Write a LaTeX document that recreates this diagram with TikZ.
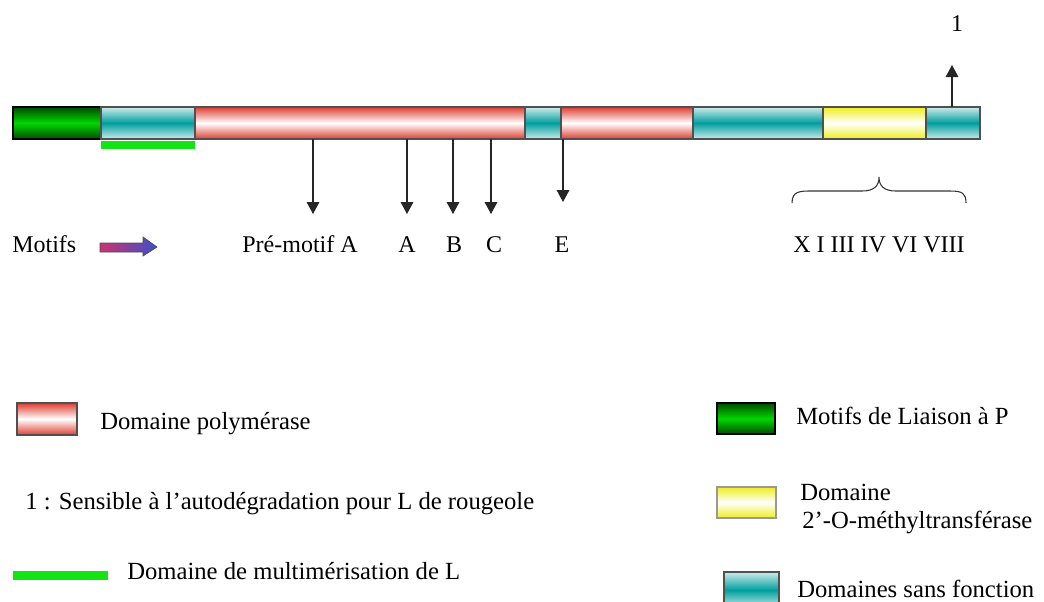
\documentclass[tikz,border=0pt]{standalone}
\usepackage{fontspec}
\setmainfont{Liberation Serif}
\usetikzlibrary{arrows.meta,shadings}
\definecolor{redE}{RGB}{222,62,50}
\definecolor{tealE}{RGB}{205,235,235}
\definecolor{tealM}{RGB}{0,158,158}
\definecolor{greenE}{RGB}{0,75,0}
\definecolor{greenM}{RGB}{0,215,0}
\definecolor{yellowE}{RGB}{238,238,30}
\definecolor{lgreen}{RGB}{20,228,20}
\definecolor{arrL}{RGB}{205,50,110}
\definecolor{arrR}{RGB}{60,80,205}
\definecolor{segline}{RGB}{80,80,80}
\tikzset{
  txt/.style={font=\fontsize{18.5pt}{21pt}\selectfont, inner sep=0pt, anchor=base west},
  lbl/.style={font=\fontsize{18pt}{21pt}\selectfont, inner sep=0pt, anchor=base},
  seg/.style={draw=segline, line width=0.8pt, inner sep=0pt, outer sep=0pt, minimum height=24pt, anchor=west},
  redseg/.style={seg, top color=redE, bottom color=redE, middle color=white},
  tealseg/.style={seg, top color=tealE, bottom color=tealE, middle color=tealM},
  greenseg/.style={seg, draw=black, top color=greenE, bottom color=greenE, middle color=greenM},
  yellowseg/.style={seg, top color=yellowE, bottom color=yellowE, middle color=white},
  darr/.style={-{Triangle[width=9.5pt,length=9pt]}, line width=0.8pt, draw=black!85},
}
\begin{document}
\begin{tikzpicture}[x=0.75pt,y=-0.75pt]
\useasboundingbox (0,0) rectangle (1044,601);
% main bar
\node[greenseg, minimum width=66pt] (g1) at (13,123) {};
\node[tealseg, minimum width=70.5pt] (t1) at (g1.east) {};
\node[redseg, minimum width=247.5pt] (r1) at (t1.east) {};
\node[tealseg, minimum width=27pt] (t2) at (r1.east) {};
\node[redseg, minimum width=99pt] (r2) at (t2.east) {};
\node[tealseg, minimum width=97.5pt] (t3) at (r2.east) {};
\node[yellowseg, minimum width=77.25pt] (y1) at (t3.east) {};
\node[tealseg, minimum width=40.5pt] (t4) at (y1.east) {};
% multimerisation underline
\fill[lgreen] (t1.south west) ++(0,2) rectangle ([yshift=-7.5pt]t1.south east);
% labels below
\node[txt, font=\fontsize{18pt}{21pt}\selectfont] (motifs) at (12,252) {Motifs};
\node[lbl] (lpm) at (300,252) {Pré-motif A};
\node[lbl] (lA) at (407,252) {A};
\node[lbl] (lB) at (454,252) {B};
\node[lbl] (lC) at (494,252) {C};
\node[lbl] (lE) at (562,252) {E};
\node[lbl] (lX) at (879,252) {X I III IV VI VIII};
\node[lbl] (l1) at (957,31) {1};
% arrow tips
\coordinate (tpm) at (313,214);
\coordinate (tA) at (407,214);
\coordinate (tB) at (453,214);
\coordinate (tC) at (491,214);
\coordinate (tE) at (563,202);
\coordinate (t1up) at (952,65);
\draw[darr] (r1.south -| tpm) -- (tpm);
\draw[darr] (r1.south -| tA) -- (tA);
\draw[darr] (r1.south -| tB) -- (tB);
\draw[darr] (r1.south -| tC) -- (tC);
\draw[darr] (t2.south -| tE) -- (tE);
\draw[darr] (t4.north -| t1up) -- (t1up);
% brace
\draw[line width=0.8pt, black!80] (792,203) .. controls (792,191) and (800,191) .. (812,191)
  -- (862,191) .. controls (874,191) and (879,186) .. (879,177)
  .. controls (879,186) and (884,191) .. (896,191) -- (950,191)
  .. controls (962,191) and (966,193) .. (966,203);
% gradient arrow
\shade[left color=arrL, right color=arrR, draw=black!70, line width=0.5pt]
  (100,243) -- (143,243) -- (143,237) -- (157,247) -- (143,256) -- (143,252) -- (100,252) -- cycle;
% legend
\node[redseg, minimum width=45pt, minimum height=24pt, anchor=north west] (kr) at (17,403) {};
\node[txt] (kr t) at (100,429) {Domaine polymérase};
\node[txt] (k1) at (25,509) {1 : Sensible à l’autodégradation pour L de rougeole};
\fill[lgreen] (13,571) rectangle (108,580);
\node[txt] (kgl t) at (127,579) {Domaine de multimérisation de L};
\node[greenseg, minimum width=43.5pt, minimum height=23.25pt, anchor=north west] (kg) at (717,403) {};
\node[txt] (kg t) at (796,424) {Motifs de Liaison à P};
\node[yellowseg, draw=black!40, minimum width=44.25pt, minimum height=23.25pt, anchor=north west] (ky) at (717,487) {};
\node[txt] (ky t) at (800,500) {Domaine};
\node[txt] (ky t2) at (802,528) {2’-O-méthyltransférase};
\node[tealseg, minimum width=41.25pt, minimum height=27pt, anchor=north west] (kt) at (724,572) {};
\node[txt] (kt t) at (797,597) {Domaines sans fonction};
\end{tikzpicture}
\end{document}
